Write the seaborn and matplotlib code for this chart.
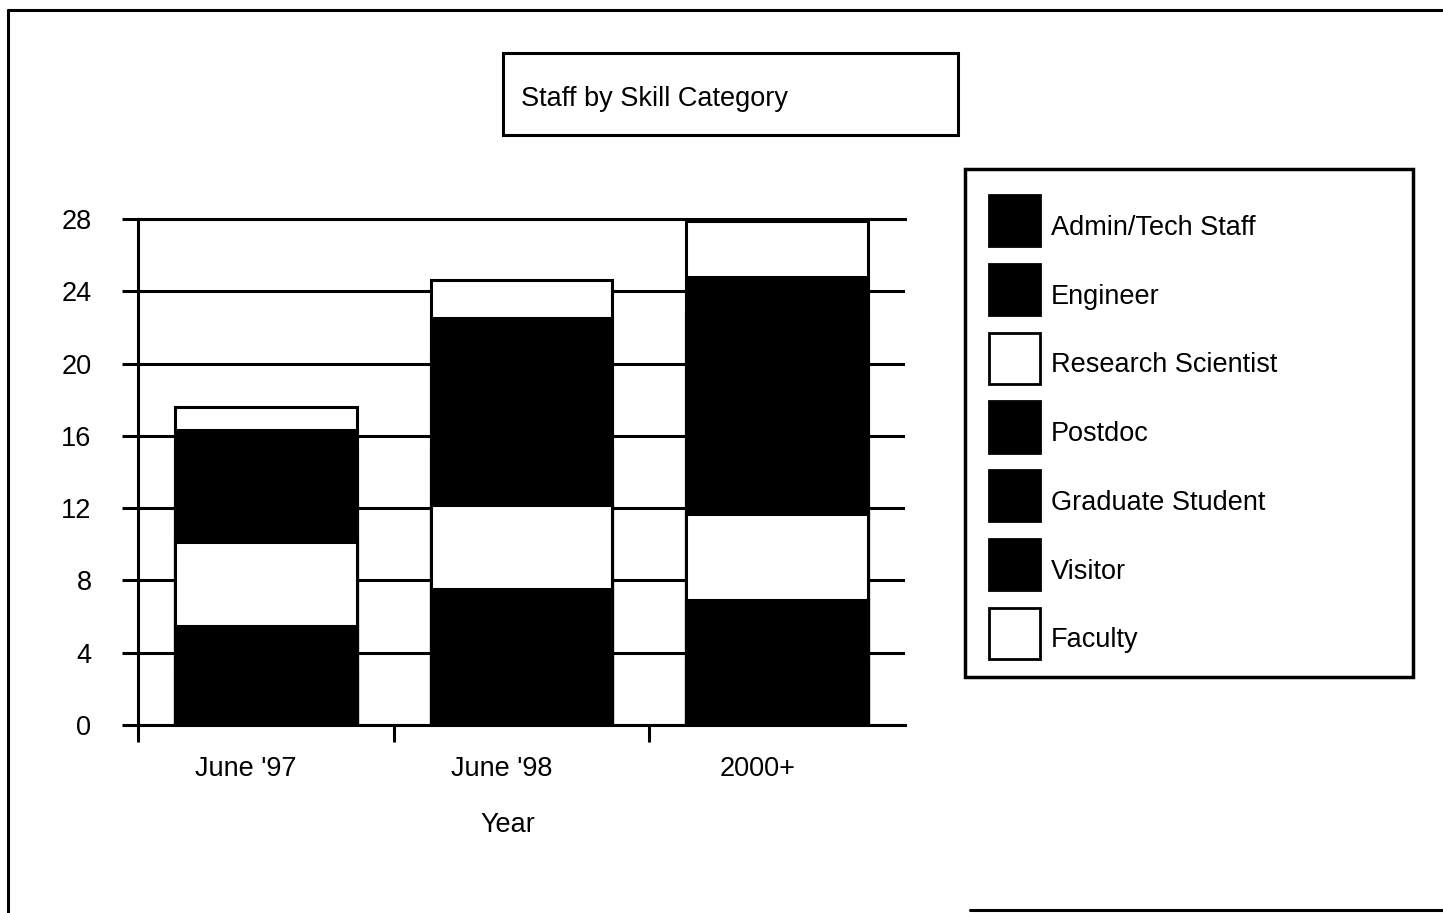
import matplotlib
matplotlib.use("Agg")
import matplotlib.pyplot as plt
import matplotlib.transforms as mtransforms
from matplotlib.patches import Patch, Rectangle
from matplotlib.lines import Line2D
import seaborn as sns
import numpy as np

# ---- data ----
categories = ["June '97", "June '98", "2000+"]
admin_tech = [3.0, 4.0, 3.5]
engineer = [2.5, 3.5, 3.4]
research_scientist = [4.6, 4.7, 4.8]
postdoc = [2.0, 3.0, 4.0]
graduate_student = [3.2, 5.3, 7.0]
visitor = [1.0, 2.0, 2.1]
faculty = [1.3, 2.1, 3.1]
series_names = ["Admin/Tech Staff", "Engineer", "Research Scientist", "Postdoc",
                "Graduate Student", "Visitor", "Faculty"]
series_values = [admin_tech, engineer, research_scientist, postdoc,
                 graduate_student, visitor, faculty]
series_colors = ["black", "black", "white", "black", "black", "black", "white"]
y_ticks = [0, 4, 8, 12, 16, 20, 24, 28]
title_text = "Staff by Skill Category"
x_label = "Year"

sns.set_theme(style="white")
plt.rcParams["font.family"] = ["Liberation Sans", "DejaVu Sans"]
plt.rcParams["text.color"] = "black"

W, H, DPI = 1443, 913, 100
fig = plt.figure(figsize=(W / DPI, H / DPI), dpi=DPI)
fig.patch.set_facecolor("white")

ax = fig.add_axes([138 / W, 1 - 725 / H, (905 - 138) / W, (725 - 219) / H])
ax.set_facecolor("white")

cum = np.cumsum(np.array(series_values), axis=0)
# draw from the top of the stack down so each lower total overlays
for i in range(len(series_names) - 1, -1, -1):
    sns.barplot(x=categories, y=cum[i], color=series_colors[i], saturation=1,
                edgecolor="black", linewidth=2.2, width=0.71, errorbar=None,
                ax=ax, zorder=2)

ax.set_xlim(-0.5, 2.5)
ax.set_ylim(0, 28)
ax.set_yticks(y_ticks)
ax.set_yticklabels([str(v) for v in y_ticks])
ax.yaxis.grid(True, color="black", linewidth=2.2, zorder=0.5)
ax.xaxis.grid(False)
ax.set_axisbelow(True)

ax.spines["right"].set_visible(False)
for s in ["left", "bottom", "top"]:
    ax.spines[s].set_visible(True)
    ax.spines[s].set_color("black")
    ax.spines[s].set_linewidth(2.2)

ax.tick_params(axis="y", which="major", direction="out", length=11.5, width=2.2,
               color="black", pad=22, labelsize=19.5, labelcolor="black", left=True)
ax.set_xticks([0, 1, 2])
ax.set_xticklabels(categories)
ax.tick_params(axis="x", which="major", length=0, pad=22, labelsize=19.5,
               labelcolor="black")
ax.set_xticks([-0.5, 0.5, 1.5], minor=True)
ax.tick_params(axis="x", which="minor", direction="out", length=12.2, width=2.2,
               color="black", bottom=True)
offset = mtransforms.ScaledTranslation(-20 / DPI, 0, fig.dpi_scale_trans)
for lab in ax.get_xticklabels():
    lab.set_transform(lab.get_transform() + offset)

ax.set_xlabel("")
ax.set_ylabel("")
fig.text(508 / W, 1 - 825 / H, x_label, ha="center", va="center",
         fontsize=19.5, color="black")

# title box
fig.patches.append(Rectangle((503 / W, 1 - 135 / H), 455 / W, 82 / H,
                             transform=fig.transFigure, facecolor="white",
                             edgecolor="black", linewidth=2.2))
fig.text(521 / W, 1 - 99 / H, title_text, ha="left", va="center",
         fontsize=19.5, color="black")

# legend
handles = [Patch(facecolor=c, edgecolor="black", linewidth=2.0) for c in series_colors]
fig.patches.append(Rectangle((965 / W, 1 - 677 / H), 448 / W, 508 / H,
                             transform=fig.transFigure, facecolor="white",
                             edgecolor="black", linewidth=2.5))
leg = fig.legend(handles, series_names, loc="upper left",
                 bbox_to_anchor=(989 / W, 1 - 195 / H), frameon=False, fontsize=19.5,
                 labelcolor="black",
                 handlelength=1.89, handleheight=2.53, labelspacing=0.65,
                 handletextpad=0.4, borderpad=0, borderaxespad=0)
text_shift = mtransforms.ScaledTranslation(0, -6 / DPI, fig.dpi_scale_trans)
for t in leg.get_texts():
    t.set_transform(t.get_transform() + text_shift)

# outer frame
fig.lines.append(Line2D([8 / W, 1.0], [1 - 10 / H, 1 - 10 / H], transform=fig.transFigure,
                        color="black", linewidth=2.2))
fig.lines.append(Line2D([8 / W, 8 / W], [1 - 10 / H, 0.0], transform=fig.transFigure,
                        color="black", linewidth=2.2))
fig.lines.append(Line2D([970 / W, 1.0], [1 - 910 / H, 1 - 910 / H], transform=fig.transFigure,
                        color="black", linewidth=2.2))

fig.savefig("out.png", dpi=DPI, facecolor="white")
